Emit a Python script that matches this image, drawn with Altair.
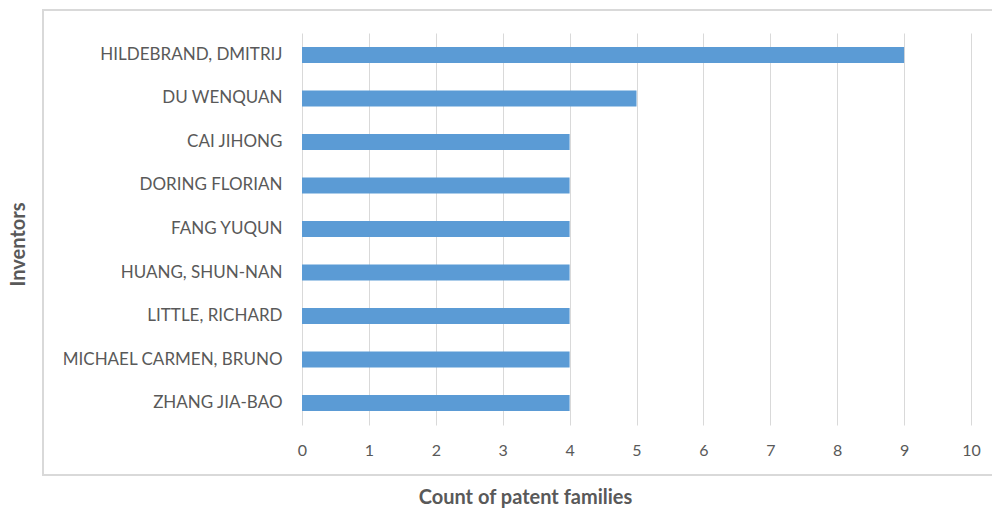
import altair as alt
import pandas as pd

inventors = [
    "HILDEBRAND, DMITRIJ",
    "DU WENQUAN",
    "CAI JIHONG",
    "DORING FLORIAN",
    "FANG YUQUN",
    "HUANG, SHUN-NAN",
    "LITTLE, RICHARD",
    "MICHAEL CARMEN, BRUNO",
    "ZHANG JIA-BAO",
]
counts = [9, 5, 4, 4, 4, 4, 4, 4, 4]

df = pd.DataFrame({"inventor": inventors, "count": counts})

FONT = "Lato"
GREY = "#595959"

bars = alt.Chart(df).mark_bar(color="#5B9BD5").encode(
    x=alt.X(
        "count:Q",
        scale=alt.Scale(domain=[0, 10], nice=False),
        axis=alt.Axis(
            title="Count of patent families",
            values=list(range(0, 11)),
            grid=True,
            gridColor="#d9d9d9",
            gridWidth=1,
            domain=False,
            ticks=False,
            labelFlush=False,
            labelPadding=17,
            labelFontSize=16,
            labelColor=GREY,
            labelFont=FONT,
            titleFont=FONT,
            titleFontSize=20,
            titleFontWeight="bold",
            titleColor=GREY,
            titleX=223,
            titleY=72,
            titleBaseline="middle",
            titleAnchor="middle",
        ),
    ),
    y=alt.Y(
        "inventor:N",
        sort=inventors,
        scale=alt.Scale(paddingInner=0.63, paddingOuter=0.32),
        axis=alt.Axis(
            title="Inventors",
            domain=False,
            ticks=False,
            labelPadding=20,
            labelFontSize=17,
            labelColor=GREY,
            labelFont=FONT,
            labelLimit=300,
            titleFont=FONT,
            titleFontSize=20,
            titleFontWeight="bold",
            titleColor=GREY,
            titleX=-284,
            titleY=211,
            titleBaseline="middle",
            titleAngle=270,
        ),
    ),
)

# light frame around the whole chart region
frame = alt.Chart(df).mark_rect(
    fill=None, stroke="#d9d9d9", strokeWidth=2, clip=False
).encode(
    x=alt.value(-259), x2=alt.value(710), y=alt.value(-23), y2=alt.value(442)
)

chart = (
    alt.layer(frame, bars)
    .properties(
        width=669,
        height=392,
        padding={"left": 302, "top": 33, "right": 21, "bottom": 83},
        autosize=alt.AutoSizeParams(type="none"),
        background="white",
    )
    .configure_view(stroke=None)
)

chart.save("out.html", embed_options={"renderer": "svg", "actions": False})
